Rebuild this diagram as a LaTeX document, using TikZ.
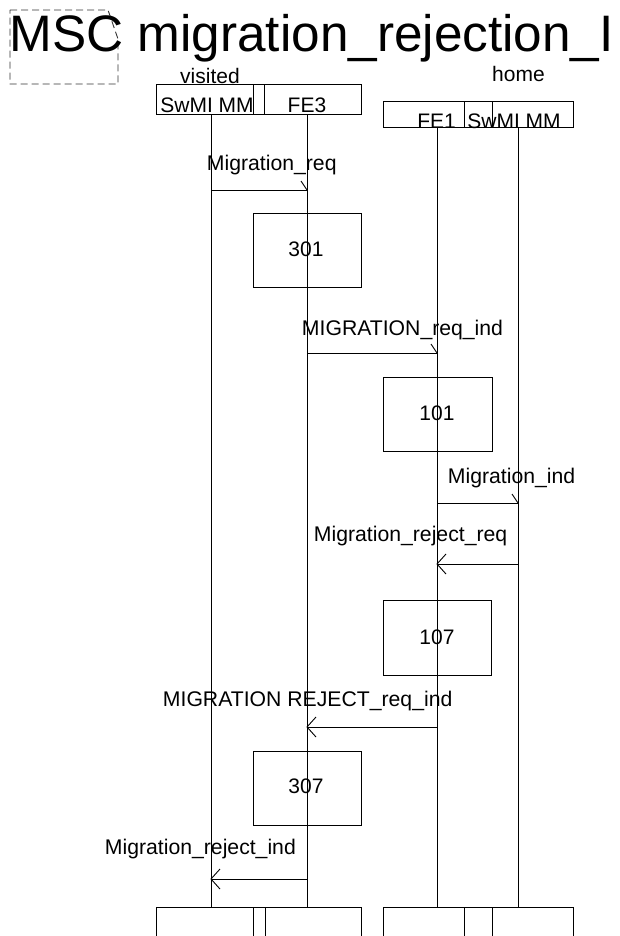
\documentclass[tikz,border=0pt]{standalone}
\usepackage{fontspec}
\setmainfont{Liberation Sans}
\begin{document}
\begin{tikzpicture}[x=1pt,y=-1pt,line width=0.9pt,
  lbl/.style={inner sep=0pt,anchor=base west,font=\fontsize{21.2}{25}\selectfont},
  ctr/.style={inner sep=0pt,anchor=base,font=\fontsize{21}{25}\selectfont},
  msg/.style={draw,line width=0.9pt},
  actbox/.style={draw,line width=0.9pt}]
\useasboundingbox (0,0) rectangle (619,936);
\clip (0,0) rectangle (619,936);
% title frame
\draw[dash pattern=on 7pt off 4pt,line width=0.9pt,black!80] (10,10) -- (108,10) -- (118,39) -- (118,84) -- (10,84) -- cycle;
\node[inner sep=0pt,anchor=base west,font=\fontsize{51.3}{60}\selectfont] (title) at (9,52) {MSC migration\_rejection\_I};
% group labels
\node[ctr] (visited) at (210,84) {visited};
\node[ctr] (home) at (518.5,82) {home};
% header boxes visited
\draw (156,84.5) rectangle (253,114.5);
\draw (253,84.5) rectangle (264.5,114.5);
\draw (264.5,84.5) rectangle (361,114.5);
\node[ctr] (hSwv) at (207,113) {SwMI MM};
\node[ctr] (hFE3) at (307,113) {FE3};
% header boxes home
\draw (383,101.5) rectangle (464,127);
\draw (464,101.5) rectangle (492,127);
\draw (492,101.5) rectangle (573,127);
\node[ctr] (hFE1) at (436.5,128.5) {FE1};
\node[ctr] (hSwh) at (514,128.5) {SwMI MM};
% lifelines
\coordinate (a0) at (211,114.5); \coordinate (a1) at (211,907);
\coordinate (b0) at (307,114.5); \coordinate (b1) at (307,907);
\coordinate (c0) at (437,127);   \coordinate (c1) at (437,907);
\coordinate (d0) at (518,127);   \coordinate (d1) at (518,907);
\draw (a0) -- (a1);
\draw (b0) -- (b1);
\draw (c0) -- (c1);
\draw (d0) -- (d1);
% bottom boxes
\draw (156,907) rectangle (253,945);
\draw (253,907) rectangle (265,945);
\draw (265,907) rectangle (361,945);
\draw (383,907) rectangle (464,945);
\draw (464,907) rectangle (492,945);
\draw (492,907) rectangle (573,945);
% message 1
\coordinate (m1s) at (211,190); \coordinate (m1e) at (307,190);
\draw[msg] (m1s) -- (m1e);
\draw (m1e) -- ++(-6,-9);
\node[lbl] (l1) at (206.5,170.5) {Migration\_req};
% box 301
\node[actbox,minimum width=108pt,minimum height=74pt,inner sep=0pt] (b301) at (307,250) {};
\node[ctr] (t301) at (306,256) {301};
% message 2
\coordinate (m2s) at (307,353); \coordinate (m2e) at (437,353);
\draw[msg] (m2s) -- (m2e);
\draw (m2e) -- ++(-6,-9);
\node[lbl] (l2) at (301.5,335) {MIGRATION\_req\_ind};
% box 101
\node[actbox,minimum width=109pt,minimum height=74pt,inner sep=0pt] (b101) at (437.5,414) {};
\node[ctr] (t101) at (437,420) {101};
% message 3
\coordinate (m3s) at (437,503); \coordinate (m3e) at (518,503);
\draw[msg] (m3s) -- (m3e);
\draw (m3e) -- ++(-6,-9);
\node[lbl] (l3) at (447.5,483) {Migration\_ind};
% message 4
\coordinate (m4s) at (518,564); \coordinate (m4e) at (437,564);
\draw[msg] (m4s) -- (m4e);
\draw (m4e) ++(9,-10) -- (m4e) -- ++(9,10);
\node[lbl] (l4) at (313.5,541) {Migration\_reject\_req};
% box 107
\node[actbox,minimum width=108.5pt,minimum height=75pt,inner sep=0pt] (b107) at (437.5,638) {};
\node[ctr] (t107) at (437,644) {107};
% message 5
\coordinate (m5s) at (437,727); \coordinate (m5e) at (307,727);
\draw[msg] (m5s) -- (m5e);
\draw (m5e) ++(9,-10) -- (m5e) -- ++(9,10);
\node[lbl] (l5) at (162.5,706.5) {MIGRATION REJECT\_req\_ind};
% box 307
\node[actbox,minimum width=108pt,minimum height=74pt,inner sep=0pt] (b307) at (307,788) {};
\node[ctr] (t307) at (306,793.3) {307};
% message 6
\coordinate (m6s) at (307,879); \coordinate (m6e) at (211,879);
\draw[msg] (m6s) -- (m6e);
\draw (m6e) ++(9,-10) -- (m6e) -- ++(9,10);
\node[lbl] (l6) at (104.5,854) {Migration\_reject\_ind};
\end{tikzpicture}
\end{document}
